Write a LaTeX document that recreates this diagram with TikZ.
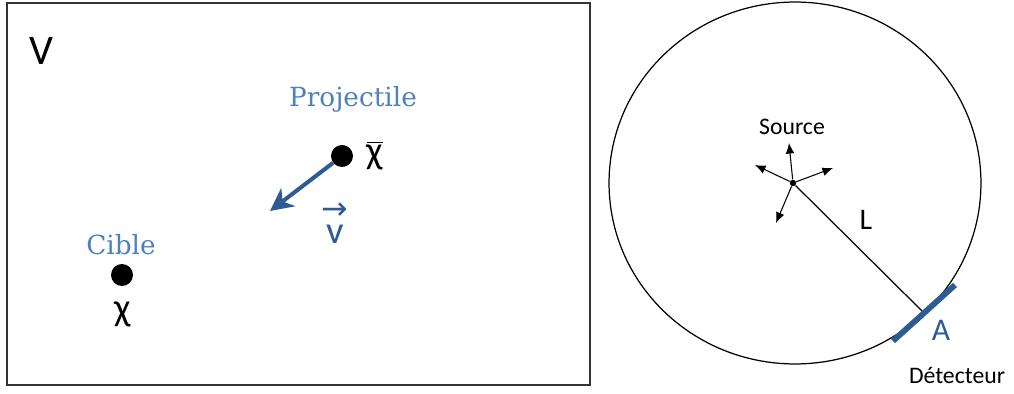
\documentclass[tikz,border=0pt]{standalone}
\usepackage{fontspec}
\setmainfont{Carlito}
\newfontfamily\labelfont{DejaVu Serif}
\newfontfamily\symfont{DejaVu Sans}
\usetikzlibrary{arrows.meta, positioning, shapes.geometric}
\definecolor{arrowblue}{RGB}{44,92,145}
\definecolor{labelblue}{RGB}{79,129,189}

\begin{document}
\begin{tikzpicture}[x=0.02cm, y=-0.02cm, >=latex,
    part/.style={circle, fill=black, inner sep=0pt, minimum size=0.44cm},
    tag/.style={font=\labelfont\fontsize{15}{17}\selectfont, text=labelblue},
    greek/.style={font=\fontsize{22}{24}\selectfont},
    small/.style={font=\fontsize{13.5}{15}\selectfont},
    ray/.style={-{Latex[length=6pt,width=5pt]}, semithick}]
    \useasboundingbox (0,0) rectangle (1014,394);
    % (a) volume V
    \begin{scope}
        \draw[line width=0.6pt, black!80] (7,3) rectangle (590,385);
        \node[font=\fontsize{24}{28}\selectfont] (vol) at (41,51) {V};
        \node[tag] (proj) at (353,99) {Projectile};
        \node[part] (pdot) at (342,156) {};
        \node[greek] (pname) at (375,156) {$\overline{\hbox{χ}}$};
        \coordinate (vend) at (270,211);
        \draw[arrowblue, line width=2.3pt, -{Stealth[length=13pt,width=13pt,inset=4pt]}] (pdot) -- (vend);
        \node[greek, text=arrowblue, inner sep=0pt] (vel) at (335,223)
            {\shortstack{\raisebox{-9pt}{\symfont\fontsize{18}{18}\selectfont →}\\v}};
        \node[tag] (cib) at (121,245) {Cible};
        \node[part] (cdot) at (122,275) {};
        \node[greek] (cname) at (123,314) {χ};
    \end{scope}
    % (b) source et detecteur
    \begin{scope}
        \node[draw, ellipse, line width=0.7pt, inner sep=0pt,
              minimum width=7.44cm, minimum height=7.24cm] (sphere) at (795,183) {};
        \node[circle, fill=black, inner sep=0pt, minimum size=0.13cm] (src) at (793,183) {};
        \node[small] (srcname) at (792,127) {Source};
        \coordinate (r1) at (789,143);
        \coordinate (r2) at (755,165);
        \coordinate (r3) at (833,168);
        \coordinate (r4) at (776,223);
        \foreach \r in {r1,r2,r3,r4}
            \draw[ray] (src) -- (\r);
        \coordinate (hit) at (923,312);
        \draw[line width=0.7pt] (src) -- (hit);
        \node[font=\fontsize{17}{20}\selectfont] (len) at (866,220) {L};
        \coordinate (d1) at (893,341);
        \coordinate (d2) at (955,285);
        \draw[arrowblue, line width=3.3pt] (d1) -- (d2);
        \node[font=\fontsize{18}{20}\selectfont, text=arrowblue] (area) at (941,330) {A};
        \node[small] (det) at (957,375) {Détecteur};
    \end{scope}
\end{tikzpicture}
\end{document}
